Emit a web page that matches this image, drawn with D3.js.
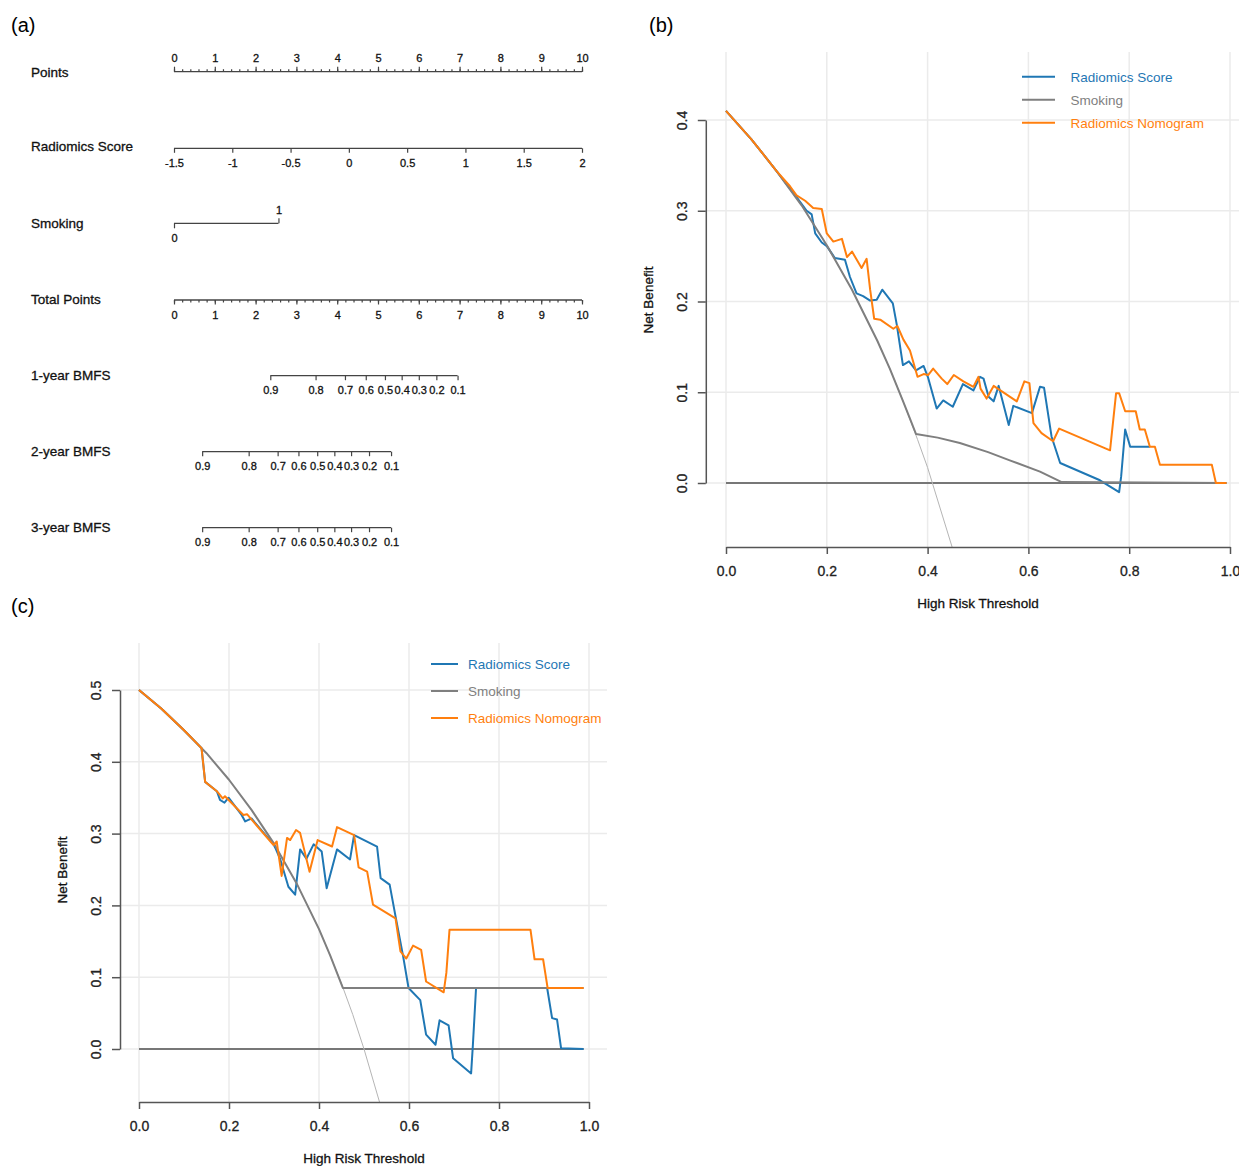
<!DOCTYPE html>
<html>
<head>
<meta charset="utf-8">
<script src="https://cdn.jsdelivr.net/npm/d3@7"></script>
<style>
    body { margin: 0; background: #fff; }
    svg { font-family: "Liberation Sans", Arial, Helvetica, sans-serif; }
    svg text { stroke-width: 0.3px; }
</style>
</head>
<body>
<svg id="fig" width="1239" height="1166"></svg>
<script>
// ---- (a) nomogram values
var pointsTicks = [0, 1, 2, 3, 4, 5, 6, 7, 8, 9, 10];
var radiomicsTicks = [-1.5, -1, -0.5, 0, 0.5, 1, 1.5, 2];
var smokingLevels = ["0", "1"];
var smokingPoints = [0, 2.56];
var totalPointsTicks = [0, 1, 2, 3, 4, 5, 6, 7, 8, 9, 10];
var bmfsLabels = ["0.9", "0.8", "0.7", "0.6", "0.5", "0.4", "0.3", "0.2", "0.1"];
var bmfs1Points = [2.36, 3.47, 4.19, 4.70, 5.17, 5.58, 6.00, 6.43, 6.95];
var bmfs2Points = [0.69, 1.83, 2.54, 3.05, 3.51, 3.93, 4.34, 4.78, 5.32];
var bmfs3Points = [0.69, 1.83, 2.54, 3.05, 3.51, 3.93, 4.34, 4.78, 5.32];

// ---- decision curves, shared
var thresholdTicks = [0, 0.2, 0.4, 0.6, 0.8, 1.0];
var legendNames = ["Radiomics Score", "Smoking", "Radiomics Nomogram"];

// ---- (b) net benefit values [threshold, net benefit]
var nbTicksB = [0, 0.1, 0.2, 0.3, 0.4];
var treatAllB = [[0, 0.41], [0.05, 0.379], [0.1, 0.344], [0.15, 0.306], [0.2, 0.262], [0.25, 0.213],
    [0.3, 0.157], [0.325, 0.126], [0.35, 0.092], [0.365, 0.07], [0.38, 0.048], [0.4, 0.017], [0.45, -0.073]];
var noneB = [[0, 0], [0.993, 0]];
var scoreB = [[0, 0.41], [0.05, 0.379], [0.1, 0.344], [0.14, 0.315], [0.16, 0.300], [0.17, 0.296],
    [0.177, 0.275], [0.19, 0.265], [0.2, 0.261], [0.216, 0.248], [0.236, 0.246], [0.246, 0.227],
    [0.259, 0.209], [0.272, 0.206], [0.286, 0.201], [0.299, 0.202], [0.31, 0.213], [0.331, 0.198],
    [0.339, 0.174], [0.351, 0.13], [0.363, 0.134], [0.377, 0.124], [0.392, 0.129], [0.401, 0.116],
    [0.418, 0.082], [0.431, 0.091], [0.45, 0.084], [0.47, 0.109], [0.491, 0.102], [0.504, 0.117],
    [0.511, 0.115], [0.521, 0.095], [0.531, 0.09], [0.541, 0.107], [0.561, 0.064], [0.57, 0.085],
    [0.607, 0.077], [0.623, 0.106], [0.631, 0.105], [0.646, 0.051], [0.663, 0.022], [0.742, 0.003],
    [0.78, -0.01], [0.784, 0.007], [0.792, 0.059], [0.802, 0.04], [0.841, 0.04]];
var smokingB = [[0, 0.41], [0.05, 0.379], [0.1, 0.344], [0.15, 0.306], [0.2, 0.262], [0.25, 0.213],
    [0.3, 0.157], [0.325, 0.126], [0.35, 0.092], [0.365, 0.071], [0.377, 0.054], [0.42, 0.05],
    [0.464, 0.044], [0.52, 0.034], [0.563, 0.025], [0.623, 0.0125], [0.666, 0.001], [0.993, 0]];
var nomogramB = [[0, 0.41], [0.05, 0.379], [0.1, 0.344], [0.127, 0.327], [0.14, 0.317], [0.157, 0.311],
    [0.173, 0.303], [0.19, 0.302], [0.2, 0.275], [0.213, 0.266], [0.23, 0.269], [0.24, 0.249],
    [0.25, 0.255], [0.269, 0.237], [0.279, 0.247], [0.286, 0.213], [0.294, 0.181], [0.306, 0.18],
    [0.332, 0.17], [0.34, 0.173], [0.352, 0.158], [0.365, 0.146], [0.38, 0.117], [0.392, 0.12],
    [0.401, 0.119], [0.411, 0.126], [0.428, 0.115], [0.439, 0.109], [0.452, 0.119], [0.471, 0.112],
    [0.491, 0.106], [0.501, 0.117], [0.505, 0.104], [0.517, 0.093], [0.531, 0.107], [0.577, 0.09],
    [0.592, 0.112], [0.602, 0.11], [0.61, 0.066], [0.626, 0.055], [0.649, 0.046], [0.661, 0.06],
    [0.762, 0.036], [0.774, 0.099], [0.78, 0.099], [0.792, 0.079], [0.813, 0.079], [0.821, 0.059],
    [0.831, 0.059], [0.841, 0.04], [0.851, 0.04], [0.861, 0.02], [0.964, 0.02], [0.972, 0], [0.993, 0]];

// ---- (c) net benefit values
var nbTicksC = [0, 0.1, 0.2, 0.3, 0.4, 0.5];
var treatAllC = [[0, 0.5], [0.05, 0.474], [0.1, 0.444], [0.15, 0.412], [0.2, 0.375], [0.25, 0.333],
    [0.3, 0.286], [0.35, 0.231], [0.4, 0.167], [0.425, 0.13], [0.45, 0.091], [0.475, 0.048],
    [0.5, 0], [0.535, -0.075]];
var noneC = [[0, 0], [0.988, 0]];
var scoreC = [[0, 0.5], [0.05, 0.474], [0.1, 0.444], [0.139, 0.419], [0.147, 0.372], [0.173, 0.359],
    [0.18, 0.347], [0.19, 0.343], [0.199, 0.35], [0.228, 0.326], [0.236, 0.317], [0.243, 0.319],
    [0.25, 0.321], [0.299, 0.285], [0.303, 0.28], [0.314, 0.264], [0.332, 0.226], [0.347, 0.215],
    [0.358, 0.278], [0.372, 0.265], [0.388, 0.285], [0.406, 0.275], [0.417, 0.224], [0.44, 0.278],
    [0.469, 0.264], [0.478, 0.298], [0.529, 0.282], [0.537, 0.238], [0.557, 0.229], [0.57, 0.185],
    [0.587, 0.129], [0.599, 0.085], [0.625, 0.068], [0.638, 0.02], [0.659, 0.006], [0.668, 0.04],
    [0.688, 0.033], [0.698, -0.013], [0.738, -0.034], [0.742, 0.006], [0.749, 0.085], [0.907, 0.085],
    [0.918, 0.043], [0.929, 0.041], [0.938, 0.001], [0.988, 0]];
var smokingC = [[0, 0.5], [0.05, 0.474], [0.1, 0.444], [0.15, 0.412], [0.2, 0.375], [0.25, 0.333],
    [0.3, 0.286], [0.35, 0.231], [0.4, 0.167], [0.425, 0.13], [0.453, 0.085], [0.988, 0.085]];
var nomogramC = [[0, 0.5], [0.05, 0.474], [0.1, 0.444], [0.139, 0.419], [0.147, 0.372], [0.173, 0.359],
    [0.186, 0.349], [0.191, 0.352], [0.232, 0.326], [0.24, 0.327], [0.299, 0.284], [0.306, 0.289],
    [0.317, 0.241], [0.329, 0.294], [0.336, 0.291], [0.349, 0.305], [0.358, 0.301], [0.379, 0.247],
    [0.397, 0.291], [0.429, 0.282], [0.44, 0.309], [0.478, 0.298], [0.488, 0.253], [0.507, 0.247],
    [0.52, 0.201], [0.57, 0.182], [0.581, 0.136], [0.594, 0.126], [0.609, 0.144], [0.627, 0.138],
    [0.638, 0.094], [0.677, 0.079], [0.683, 0.106], [0.69, 0.166], [0.87, 0.166], [0.879, 0.125],
    [0.898, 0.125], [0.908, 0.085], [0.988, 0.085]];

var blue = "#1f77b4", grey = "#7f7f7f", orange = "#ff7f0e";

var svg = d3.select("#fig");

// panel letters
svg.append("text").attr("x", 11).attr("y", 32).attr("font-size", 20).text("(a)");
svg.append("text").attr("x", 649).attr("y", 32).attr("font-size", 20).text("(b)");
svg.append("text").attr("x", 11).attr("y", 613).attr("font-size", 20).text("(c)");

// ================= (a) nomogram
var ptsScale = d3.scaleLinear().domain([0, 10]).range([174, 582]);
var radScale = d3.scaleLinear().domain([-1.5, 2]).range([174, 582]);
var nomo = svg.append("g").attr("class", "nomogram");

function nomoAxis(axis, y) {
    var g = nomo.append("g").attr("transform", "translate(0," + y + ")").call(axis);
    g.select(".domain").remove();
    g.selectAll(".tick line").attr("stroke", "#444").attr("stroke-width", 1.2);
    g.selectAll(".tick text").attr("font-size", 11).attr("fill", "#111").attr("stroke", "#111")
        .attr("font-family", "'Liberation Sans', Arial, sans-serif");
    return g;
}
function nomoLine(y, x1, x2) {
    nomo.append("line").attr("x1", x1).attr("x2", x2).attr("y1", y).attr("y2", y)
        .attr("stroke", "#444").attr("stroke-width", 1.3);
}
function rowLabel(txt, y) {
    nomo.append("text").attr("x", 31).attr("y", y).attr("font-size", 13.5)
        .attr("fill", "#111").attr("stroke", "#111").text(txt);
}

// Points
rowLabel("Points", 77);
nomoLine(71.7, ptsScale(0), ptsScale(10));
nomoAxis(d3.axisTop(ptsScale).tickValues(d3.range(0, 10.01, 0.2)).tickSize(2.5).tickFormat(""), 71.7);
nomoAxis(d3.axisTop(ptsScale).tickValues(pointsTicks).tickSize(5).tickPadding(5), 71.7);

// Radiomics Score
rowLabel("Radiomics Score", 150.5);
nomoLine(148.3, radScale(-1.5), radScale(2));
nomoAxis(d3.axisBottom(radScale).tickValues(radiomicsTicks).tickSize(4.5).tickPadding(6)
    .tickFormat(function(d) { return String(d); }), 148.3);

// Smoking
rowLabel("Smoking", 227.5);
nomoLine(223.3, ptsScale(smokingPoints[0]), ptsScale(smokingPoints[1]));
nomoAxis(d3.axisBottom(ptsScale).tickValues([smokingPoints[0]]).tickSize(5).tickPadding(6)
    .tickFormat(function() { return smokingLevels[0]; }), 223.3);
nomoAxis(d3.axisTop(ptsScale).tickValues([smokingPoints[1]]).tickSize(5).tickPadding(4)
    .tickFormat(function() { return smokingLevels[1]; }), 223.3);

// Total Points
rowLabel("Total Points", 304);
nomoLine(300, ptsScale(0), ptsScale(10));
nomoAxis(d3.axisBottom(ptsScale).tickValues(d3.range(0, 10.01, 0.2)).tickSize(2.5).tickFormat(""), 300);
nomoAxis(d3.axisBottom(ptsScale).tickValues(totalPointsTicks).tickSize(4.5).tickPadding(6.5), 300);

// BMFS rows
[["1-year BMFS", bmfs1Points, 375.7, 380],
 ["2-year BMFS", bmfs2Points, 451.7, 456],
 ["3-year BMFS", bmfs3Points, 527.7, 531.5]].forEach(function(r) {
    rowLabel(r[0], r[3]);
    nomoLine(r[2], ptsScale(d3.min(r[1])), ptsScale(d3.max(r[1])));
    nomoAxis(d3.axisBottom(ptsScale).tickValues(r[1]).tickSize(4.5).tickPadding(6.5)
        .tickFormat(function(d, i) { return bmfsLabels[i]; }), r[2]);
});

// ================= decision curves
function drawDCA(cfg) {
    var x = d3.scaleLinear().domain([0, 1]).range([cfg.x0, cfg.x1]);
    var y = d3.scaleLinear().domain([0, cfg.yMax]).range([cfg.y0, cfg.yTop]);
    var g = svg.append("g").attr("class", "dca " + cfg.id);

    g.append("clipPath").attr("id", cfg.id + "-clip").append("rect")
        .attr("x", cfg.left).attr("y", cfg.top)
        .attr("width", cfg.right - cfg.left).attr("height", cfg.bottom - cfg.top);

    // grid
    g.selectAll(".vgrid").data(thresholdTicks).enter().append("line")
        .attr("x1", function(d) { return x(d); }).attr("x2", function(d) { return x(d); })
        .attr("y1", cfg.top).attr("y2", cfg.bottom)
        .attr("stroke", "#ebebeb").attr("stroke-width", 1.5);
    g.selectAll(".hgrid").data(cfg.yTicks).enter().append("line")
        .attr("x1", cfg.left).attr("x2", cfg.right)
        .attr("y1", function(d) { return y(d); }).attr("y2", function(d) { return y(d); })
        .attr("stroke", "#ebebeb").attr("stroke-width", 1.5);

    // curves
    var line = d3.line().x(function(d) { return x(d[0]); }).y(function(d) { return y(d[1]); });
    var plot = g.append("g").attr("clip-path", "url(#" + cfg.id + "-clip)");
    cfg.series.forEach(function(s) {
        plot.append("path").attr("d", line(s.data)).attr("fill", "none")
            .attr("stroke", s.color).attr("stroke-width", s.width)
            .attr("stroke-linejoin", "round");
    });

    // axes
    var xa = g.append("g").attr("transform", "translate(0," + cfg.bottom + ")")
        .call(d3.axisBottom(x).tickValues(thresholdTicks).tickFormat(d3.format(".1f"))
            .tickSize(7).tickPadding(12).tickSizeOuter(0));
    var ya = g.append("g").attr("transform", "translate(" + cfg.left + ",0)")
        .call(d3.axisLeft(y).tickValues(cfg.yTicks).tickFormat(d3.format(".1f"))
            .tickSize(8).tickSizeOuter(0));
    ya.selectAll(".tick text").attr("x", null).attr("dy", null)
        .attr("text-anchor", "middle").attr("transform", "translate(-19,0) rotate(-90)");
    [xa, ya].forEach(function(a) {
        a.select(".domain").attr("stroke", "#555").attr("stroke-width", 1.5);
        a.selectAll(".tick line").attr("stroke", "#555").attr("stroke-width", 1.5);
        a.selectAll(".tick text").attr("font-size", 14).attr("fill", "#222").attr("stroke", "#222")
            .attr("font-family", "'Liberation Sans', Arial, sans-serif");
    });

    // titles
    g.append("text").attr("x", (cfg.x0 + cfg.x1) / 2).attr("y", cfg.bottom + 61)
        .attr("text-anchor", "middle").attr("font-size", 13.5).attr("fill", "#111").attr("stroke", "#111")
        .text("High Risk Threshold");
    g.append("text").attr("transform", "translate(" + (cfg.left - 53) + "," + cfg.titleY + ") rotate(-90)")
        .attr("text-anchor", "middle").attr("font-size", 13.5).attr("fill", "#111").attr("stroke", "#111")
        .text("Net Benefit");

    // legend
    var lg = g.append("g").attr("class", "legend");
    [blue, grey, orange].forEach(function(c, i) {
        var ly = cfg.legY + i * cfg.legStep;
        lg.append("line").attr("x1", cfg.legX).attr("x2", cfg.legX + cfg.legLen)
            .attr("y1", ly).attr("y2", ly).attr("stroke", c).attr("stroke-width", 2);
        lg.append("text").attr("x", cfg.legText).attr("y", ly + 4.8)
            .attr("font-size", 13.5).attr("fill", c).text(legendNames[i]);
    });
}

drawDCA({
    id: "panelB", x0: 726, x1: 1230, y0: 483, yTop: 120, yMax: 0.4, yTicks: nbTicksB,
    left: 705.8, right: 1250, top: 52, bottom: 547, titleY: 300,
    legX: 1022, legLen: 33, legText: 1070.5, legY: 76.7, legStep: 23,
    series: [
        { data: noneB, color: "#777", width: 1.8 },
        { data: treatAllB, color: "#b5b5b5", width: 1 },
        { data: scoreB, color: blue, width: 2 },
        { data: smokingB, color: grey, width: 2 },
        { data: nomogramB, color: orange, width: 2 }
    ]
});

drawDCA({
    id: "panelC", x0: 139, x1: 589, y0: 1049, yTop: 690, yMax: 0.5, yTicks: nbTicksC,
    left: 120, right: 607, top: 643, bottom: 1102, titleY: 870,
    legX: 431, legLen: 27, legText: 468, legY: 664, legStep: 27,
    series: [
        { data: noneC, color: "#777", width: 1.8 },
        { data: treatAllC, color: "#b5b5b5", width: 1 },
        { data: scoreC, color: blue, width: 2 },
        { data: smokingC, color: grey, width: 2 },
        { data: nomogramC, color: orange, width: 2 }
    ]
});
</script>
</body>
</html>
